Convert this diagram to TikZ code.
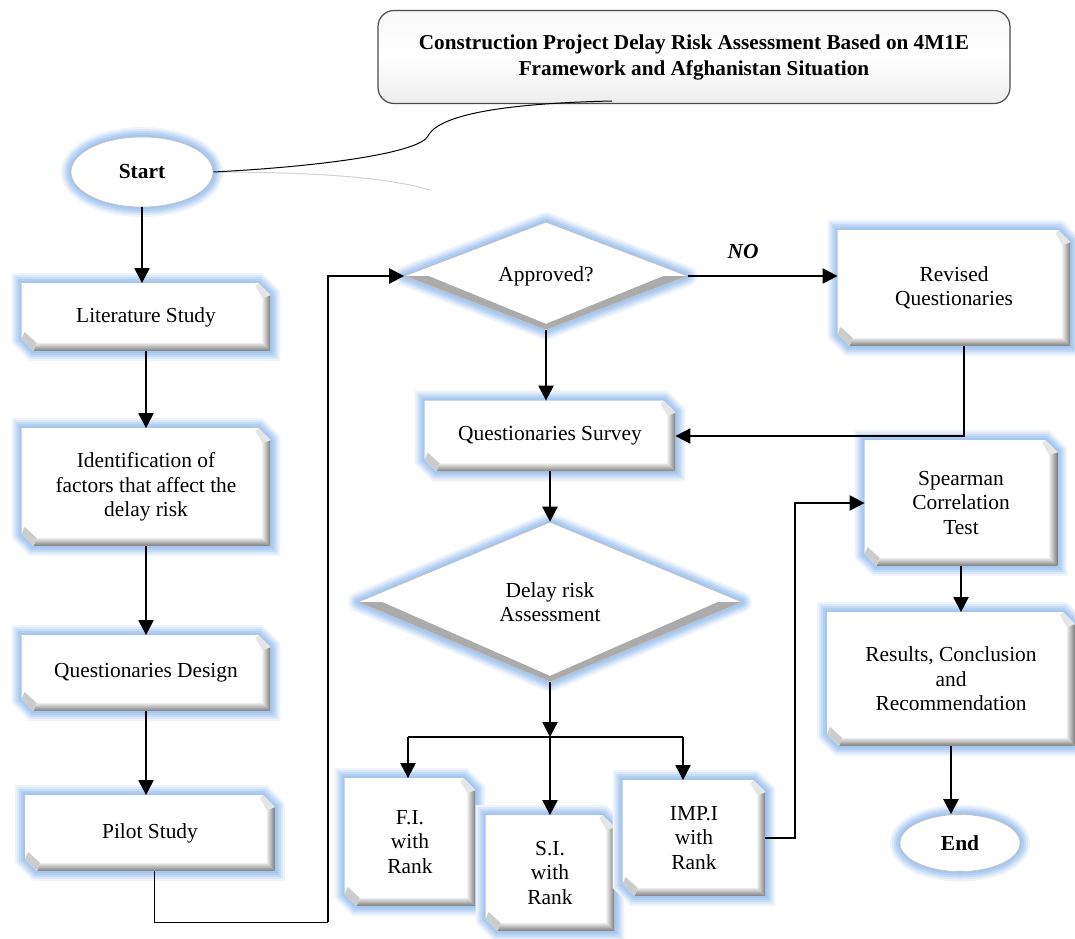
\documentclass[tikz,border=0pt]{standalone}
\usepackage{fontspec}
\setmainfont{Liberation Serif}
\usetikzlibrary{shapes.geometric,arrows.meta,backgrounds}

\definecolor{glowblue}{RGB}{165,198,240}
\definecolor{bevelgray}{RGB}{125,125,125}

\tikzset{
  glow/.style={line join=round,
               preaction={draw=glowblue!20,line width=10pt},
               preaction={draw=glowblue!40,line width=8pt},
               preaction={draw=glowblue!65,line width=6pt},
               preaction={draw=glowblue!85,line width=4pt},
               preaction={draw=glowblue,line width=2pt}},
  bevelbox/.style={rectangle, inner sep=0pt, align=center,
    font=\fontsize{10.7}{12.25}\selectfont},
  decision/.style={diamond, aspect=2.6, inner sep=0pt, fill=white,
    draw=gray!50, line width=0.3pt, glow,
    align=center, font=\fontsize{10.7}{12.25}\selectfont,
    path picture={
      \fill[bevelgray!65] (path picture bounding box.west) -- (path picture bounding box.south)
        -- (path picture bounding box.east) -- ([xshift=-12pt]path picture bounding box.east)
        -- ([yshift=3pt]path picture bounding box.south) -- ([xshift=12pt]path picture bounding box.west) -- cycle;
    }},
  terminal/.style={ellipse, inner sep=0pt, fill=white, draw=gray!50,
    line width=0.3pt, glow, font=\bfseries\fontsize{10.7}{12}\selectfont},
  flow/.style={line width=1.1pt, -{Triangle[length=7.5pt,width=7.5pt]}},
  link/.style={line width=1.1pt},
}

\begin{document}
\begin{tikzpicture}[x=0.5pt,y=-0.5pt]
\path[use as bounding box] (0,0) rectangle (1075,938);

% title
\node[draw=gray!60!black, line width=0.6pt, rounded corners=8pt,
  top color=gray!6, bottom color=gray!14, middle color=white,
  minimum width=316pt, minimum height=46.5pt, align=center,
  font=\bfseries\fontsize{10.6}{13}\selectfont] (title) at (694,57)
  {Construction Project Delay Risk Assessment Based on 4M1E\\Framework and Afghanistan Situation};

% left column
\node[terminal, minimum width=71pt, minimum height=35pt] (start) at (142,172) {Start};
\node[bevelbox, minimum width=124pt, minimum height=33.5pt] (lit) at (146,317) {Literature Study};
\node[bevelbox, minimum width=124pt, minimum height=58.5pt] (ident) at (146,487)
  {Identification of\\factors that affect the\\delay risk};
\node[bevelbox, minimum width=124pt, minimum height=37.5pt] (design) at (146,673) {Questionaries Design};
\node[bevelbox, minimum width=124.5pt, minimum height=37.5pt] (pilot) at (150,833) {Pilot Study};

% middle column
\node[decision, minimum width=141.5pt, minimum height=54pt] (approved) at (546,276) {Approved?};
\node[bevelbox, minimum width=125pt, minimum height=35pt] (survey) at (550,436) {Questionaries Survey};
\node[decision, minimum width=192pt, minimum height=80pt] (delay) at (550,602) {Delay risk\\Assessment};
\node[bevelbox, minimum width=65pt, minimum height=63.5pt] (fi) at (410,842) {F.I.\\with\\Rank};
\node[bevelbox, minimum width=64pt, minimum height=57.5pt] (si) at (550,873) {S.I.\\with\\Rank};
\node[bevelbox, minimum width=71pt, minimum height=57.5pt] (imp) at (694,838) {IMP.I\\with\\Rank};

% right column
\node[bevelbox, minimum width=116pt, minimum height=57.5pt] (revised) at (954,288) {Revised\\Questionaries};
\node[bevelbox, minimum width=96pt, minimum height=62.5pt] (spear) at (961,503) {Spearman\\Correlation\\Test};
\node[bevelbox, minimum width=123.5pt, minimum height=66.5pt] (results) at (951,679)
  {Results, Conclusion\\and\\Recommendation};
\node[terminal, minimum width=60pt, minimum height=28.5pt] (end) at (960,843) {End};

\node[font=\bfseries\itshape\fontsize{10.7}{12}\selectfont] (no) at (743,252) {NO};

% bevelled boxes behind the texts
\begin{scope}[on background layer]
\foreach \n in {lit,ident,design,pilot,survey,fi,si,imp,revised,spear,results}{
  \path[glow, fill=white] (\n.north west) -- ([xshift=-6pt]\n.north east) -- ([yshift=-6pt]\n.north east)
    -- (\n.south east) -- ([xshift=6pt]\n.south west) -- ([yshift=6pt]\n.south west) -- cycle;
  \shade[left color=gray!15, right color=bevelgray] ([xshift=-4pt,yshift=-7.5pt]\n.north east)
    -- ([yshift=-6pt]\n.north east) -- (\n.south east) -- ([xshift=-4pt,yshift=4pt]\n.south east) -- cycle;
  \shade[top color=gray!15, bottom color=bevelgray] ([xshift=7.5pt,yshift=4pt]\n.south west)
    -- ([xshift=-4pt,yshift=4pt]\n.south east) -- (\n.south east) -- ([xshift=6pt]\n.south west) -- cycle;
  \fill[gray!40] ([yshift=6pt]\n.south west) -- ([xshift=6pt]\n.south west)
    -- ([xshift=7.5pt,yshift=4pt]\n.south west) -- ([xshift=1.5pt,yshift=9.5pt]\n.south west) -- cycle;
  \fill[gray!20] ([xshift=-6pt]\n.north east) -- ([yshift=-6pt]\n.north east)
    -- ([xshift=-4pt,yshift=-7.5pt]\n.north east) -- ([xshift=-7.5pt,yshift=-1.5pt]\n.north east) -- cycle;
}
\end{scope}

% callout
\draw[gray!35, line width=0.5pt] (start.east) .. controls (320,172) and (390,178) .. (430,190);
\draw[line width=0.5pt] (start.east) .. controls (330,166) and (420,152) .. (428,136)
  .. controls (440,112) and (520,103) .. (612,101);

% connectors
\coordinate (bendA) at (328,922);
\coordinate (bendB) at (795,838);
\coordinate (split) at (550,737);
\coordinate (splitL) at (408,737);
\coordinate (splitR) at (683,737);
\draw[flow] (start) -- (start |- lit.north);
\draw[flow] (lit) -- (lit |- ident.north);
\draw[flow] (ident) -- (ident |- design.north);
\draw[flow] (design) -- (design |- pilot.north);
\draw[line width=0.5pt] ([xshift=2pt]pilot.south) |- (bendA);
\draw[flow] (bendA) |- (approved.west);
\draw[flow] (approved.east) -- (approved.east -| revised.west);
\draw[flow] (approved.south) -- (approved.south |- survey.north);
\draw[flow] ([xshift=5pt]revised.south) |- (survey.east);
\draw[flow] (survey) -- (survey |- delay.north);
\draw[flow] (delay.south) -- (split);
\draw[link] (splitL) -- (splitR);
\draw[flow] (splitL) -- (splitL |- fi.north);
\draw[flow] (split) -- (si.north);
\draw[flow] (splitR) -- (splitR |- imp.north);
\draw[flow] (imp.east) -- (bendB) |- (spear.west);
\draw[flow] (spear) -- (spear |- results.north);
\draw[flow] (results) -- (results |- end.north);
\end{tikzpicture}
\end{document}
